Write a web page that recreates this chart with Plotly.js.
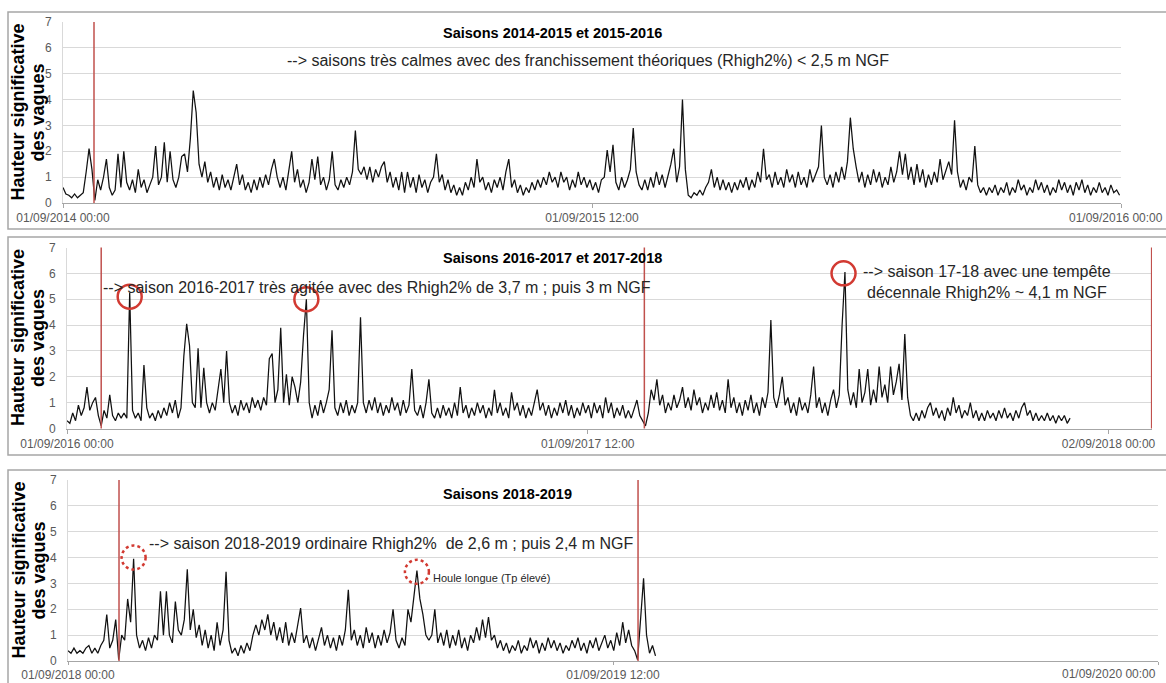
<!DOCTYPE html>
<html><head><meta charset="utf-8">
<script src="https://cdn.plot.ly/plotly-3.0.1.min.js"></script>
<style>html,body{margin:0;padding:0;background:#fff;}#chart{width:1166px;height:683px;}</style>
</head><body><div id="chart"></div>
<script>
// ---------- DATA (one value every 2 days) ----------
const hs1Start = '2014-09-01';
const hs2Start = '2016-09-01';
const hs3Start = '2018-09-01';
const stepDays = 2;

const hs1 = [
0.6,0.35,0.3,0.2,0.35,0.2,0.3,0.4,1.2,2.1,
1.3,0.1,0.9,0.5,1.0,1.7,0.6,0.3,0.5,1.9,
0.6,2.0,0.8,0.5,0.9,0.4,1.3,0.6,0.9,0.4,
0.7,1.0,2.2,0.7,1.0,2.35,0.8,2.0,0.9,0.6,
1.0,1.8,1.9,1.2,2.5,4.35,3.5,1.5,1.0,1.6,
0.8,1.2,0.6,1.0,0.5,1.1,0.6,0.9,0.5,1.0,
1.5,0.7,1.1,0.5,0.8,0.4,0.9,0.5,1.0,0.6,
1.1,0.7,1.3,1.7,1.0,0.6,1.0,0.5,1.2,2.0,
0.8,1.3,0.6,0.9,0.4,0.8,1.7,0.9,1.8,0.7,
1.0,0.5,0.9,2.0,0.7,0.5,0.9,0.6,1.0,0.7,
1.2,2.8,1.3,1.1,1.4,0.9,1.4,0.8,1.3,1.0,
1.4,1.6,0.8,1.2,0.6,1.0,0.5,1.2,0.4,1.2,
0.6,1.0,0.4,1.1,0.6,0.9,0.4,0.8,1.0,1.9,
0.8,1.1,0.5,0.9,0.4,0.7,0.3,0.6,0.3,0.8,
0.5,1.0,0.6,1.7,0.8,1.0,0.5,0.8,0.4,0.9,
0.6,1.0,0.5,1.2,1.7,0.6,0.9,0.4,0.7,0.3,
0.6,0.4,0.8,0.5,0.9,0.6,1.0,0.7,1.2,0.8,
1.0,0.6,1.2,0.8,1.0,0.5,0.9,0.6,1.2,0.7,
1.0,0.6,0.9,0.5,0.8,0.4,0.9,1.0,2.05,1.2,
2.25,0.8,0.5,1.0,0.6,0.9,1.3,2.9,1.2,0.7,
0.5,0.9,0.5,1.0,0.6,1.2,0.7,1.1,0.6,1.0,
1.5,2.1,0.8,1.4,4.0,1.3,0.3,0.2,0.4,0.3,
0.5,0.3,0.6,0.8,1.3,0.6,1.0,0.5,0.9,0.5,
0.8,0.4,0.8,0.5,0.9,0.6,1.0,0.5,0.9,0.6,
1.2,0.8,2.1,0.9,1.1,0.6,1.2,0.7,1.0,0.6,
1.3,0.8,1.1,0.6,1.2,0.7,1.0,0.6,1.3,0.8,
1.1,1.4,3.0,1.0,0.7,1.1,0.6,1.2,0.8,1.4,
0.9,1.6,3.3,2.1,1.4,0.8,1.2,0.6,1.1,0.7,
1.3,0.8,1.2,0.6,1.0,0.7,1.4,0.8,1.2,2.0,
1.1,1.9,0.9,1.4,0.7,1.5,0.8,1.3,0.6,1.1,
0.7,1.2,0.8,1.7,0.9,1.3,1.6,1.1,3.2,1.2,
0.6,0.9,0.5,1.0,0.8,2.2,0.7,0.4,0.6,0.3,
0.6,0.4,0.7,0.3,0.6,0.4,0.8,0.3,0.6,0.4,
0.9,0.5,0.7,0.3,0.6,0.4,0.9,0.5,0.8,0.4,
0.7,0.3,0.6,0.4,0.9,0.5,0.8,0.4,0.7,0.3,
0.8,0.5,0.9,0.4,0.7,0.3,0.6,0.4,0.8,0.4,
0.6,0.3,0.7,0.4,0.5,0.3];

const hs2 = [
0.3,0.2,0.6,0.3,0.9,0.5,0.8,1.6,0.7,1.0,
1.2,0.5,0.1,0.7,0.4,1.3,0.5,0.3,0.6,0.4,
0.6,0.4,5.25,0.7,0.4,0.6,0.3,2.45,0.8,0.4,
0.6,0.3,0.7,0.4,0.8,0.5,1.0,0.6,1.1,0.4,
0.8,2.8,4.05,3.2,1.0,0.8,3.1,0.8,2.35,1.0,
0.6,1.0,0.7,1.5,2.3,1.0,3.0,1.0,0.6,0.9,
0.5,1.1,0.7,1.0,0.6,1.2,0.8,1.1,0.7,1.2,
0.9,2.7,2.9,1.0,1.5,3.9,1.0,2.1,0.9,2.0,
1.6,1.0,1.8,3.6,5.0,1.0,0.4,0.9,0.5,1.1,
0.6,1.0,1.5,3.8,0.8,0.5,1.0,0.6,1.1,0.5,
0.9,0.6,1.0,4.3,1.0,0.6,1.1,0.7,1.2,0.6,
1.0,0.5,0.9,0.6,1.2,0.7,1.0,0.5,1.1,0.6,
0.9,2.3,0.7,0.5,0.9,0.4,1.0,1.9,0.6,0.4,
0.8,0.4,0.9,0.5,0.8,0.4,1.0,0.5,1.6,0.6,
0.9,0.4,0.8,0.5,1.0,0.6,0.9,0.4,0.8,0.5,
1.5,0.6,1.0,0.5,0.8,0.4,1.4,0.7,1.0,0.5,
0.9,0.4,0.8,0.5,1.0,1.5,0.7,1.0,0.5,0.9,
0.4,0.8,0.5,1.0,0.6,1.1,0.5,0.9,0.4,0.8,
0.5,1.0,0.6,0.9,0.4,1.0,0.6,0.9,0.4,1.2,
0.6,1.0,0.4,0.8,0.5,0.9,0.4,0.7,0.4,0.8,
1.1,0.5,0.3,0.1,0.6,1.5,1.1,1.9,0.9,1.3,
0.6,1.0,0.7,1.3,0.8,1.1,1.6,0.8,1.2,0.7,
1.5,0.9,1.2,0.6,1.0,0.7,1.3,0.8,1.4,0.7,
1.1,0.6,1.9,0.8,1.2,0.6,1.0,0.5,1.1,0.7,
1.3,0.6,1.0,0.5,1.2,0.8,1.4,4.2,1.2,0.8,
1.3,2.0,0.9,1.2,0.6,1.0,0.5,1.2,0.7,1.0,
0.6,1.3,2.4,0.8,1.2,0.6,1.0,0.5,1.1,1.5,
0.8,1.3,4.0,6.05,1.5,0.9,1.4,0.8,2.3,1.0,
1.4,2.3,0.9,1.5,1.0,2.4,1.2,1.7,1.0,2.4,
1.3,1.8,2.5,1.1,3.65,1.2,0.5,0.3,0.6,0.3,
0.7,0.4,0.8,1.0,0.5,0.8,0.4,0.7,0.3,0.8,
0.5,1.2,0.6,0.9,0.4,0.7,0.5,1.0,0.4,0.7,
0.3,0.6,0.3,0.7,0.4,0.6,0.3,0.7,0.4,0.8,
0.4,0.6,0.3,0.7,0.4,0.8,1.0,0.5,0.7,0.3,
0.6,0.3,0.5,0.3,0.6,0.3,0.5,0.2,0.5,0.3,
0.5,0.2,0.4];

const hs3 = [
0.4,0.3,0.5,0.3,0.4,0.3,0.5,0.6,0.3,0.5,
0.3,0.6,0.8,1.8,0.5,0.8,1.6,0.05,1.0,0.8,
2.4,1.5,3.95,1.0,0.5,0.8,0.4,0.9,0.5,1.0,
0.8,2.7,1.0,2.7,1.0,0.7,2.3,1.2,1.0,1.6,
3.55,1.2,2.0,0.9,1.4,0.6,1.2,0.5,1.0,0.4,
1.5,0.6,1.2,3.45,0.8,0.3,0.5,0.2,0.6,0.3,
0.7,0.4,1.0,1.4,1.0,1.6,1.2,1.8,1.0,1.5,
0.8,1.3,0.7,1.5,0.6,1.1,0.7,1.4,2.05,0.7,
1.0,0.5,0.9,0.4,0.8,1.3,0.6,1.0,0.5,0.9,
0.4,1.0,0.6,1.2,2.75,0.8,1.2,0.6,1.0,0.5,
1.3,0.7,1.1,0.5,1.0,0.6,1.2,0.7,1.1,2.0,
0.8,0.5,0.9,0.6,2.0,1.5,2.5,3.5,2.4,1.8,
1.0,0.8,1.0,2.0,0.7,1.1,0.6,1.2,0.5,1.0,
0.6,1.2,0.5,0.9,0.4,1.0,0.7,1.3,0.8,1.6,
0.9,1.7,0.8,1.0,0.5,0.8,0.4,0.7,0.3,0.6,
0.4,0.8,0.3,0.6,0.4,0.9,0.5,0.8,0.3,0.7,
0.4,0.9,0.5,0.8,0.4,0.7,0.3,0.6,0.4,0.8,
0.5,0.9,0.4,0.7,0.3,0.8,0.5,0.9,0.4,0.7,
1.0,0.5,0.8,0.4,1.1,0.6,1.5,0.7,1.2,0.6,
0.4,0.05,1.5,3.2,1.0,0.3,0.6,0.2];

// axis ranges and tick labels
const range1 = ['2014-09-01 00:00','2016-09-01 00:00'];
const range2 = ['2016-09-01 00:00','2018-10-02 12:00'];
const range3 = ['2018-09-01 00:00','2020-09-01 00:00'];
const tickVals1 = ['2014-09-01 00:00','2015-09-01 12:00','2016-09-01 00:00'];
const tickText1 = ['01/09/2014 00:00','01/09/2015 12:00','01/09/2016 00:00'];
const tickVals2 = ['2016-09-01 00:00','2017-09-01 12:00','2018-09-02 00:00'];
const tickText2 = ['01/09/2016 00:00','01/09/2017 12:00','02/09/2018 00:00'];
const tickVals3 = ['2018-09-01 00:00','2019-09-01 12:00','2020-09-01 00:00'];
const tickText3 = ['01/09/2018 00:00','01/09/2019 12:00','01/09/2020 00:00'];
const yTicks = [0,1,2,3,4,5,6,7];

// season boundary lines (red)
const seasonLines1 = ['2014-09-22 10:00'];
const seasonLines2 = ['2016-09-25 00:00','2017-10-11 05:00','2018-10-02 06:00'];
const seasonLines3 = ['2018-10-05 05:00','2019-09-18 07:00'];

// highlighted storms (circles)
const storms2X = ['2016-10-15 00:00','2017-02-16 00:00','2018-02-28 00:00'];
const storms2Y = [5.1, 5.0, 6.0];
const storms3X = ['2018-10-15 00:00','2019-04-23 00:00'];
const storms3Y = [4.0, 3.45];

const titles = ['Saisons 2014-2015 et 2015-2016','Saisons 2016-2017 et 2017-2018','Saisons 2018-2019'];
const yTitle1 = 'Hauteur significative';
const yTitle2 = 'des vagues';

// ---------- BUILD ----------
const W = 1166, H = 683;
const FONT = 'Liberation Sans, Arial, sans-serif';
const TICKFONT = {family: FONT, size: 12, color: '#595959'};
const px = v => v / W;
const py = v => 1 - v / H;

function dates(start, n) {
  const t0 = Date.parse(start + 'T00:00:00Z');
  return Array.from({length: n}, (_, i) =>
    new Date(t0 + i * stepDays * 86400000).toISOString().slice(0, 16).replace('T', ' '));
}

const lineStyle = {color: '#111', width: 1.25};
const data = [
  {x: dates(hs1Start, hs1.length), y: hs1, xaxis: 'x', yaxis: 'y', type: 'scatter', mode: 'lines', line: lineStyle, hoverinfo: 'skip'},
  {x: dates(hs2Start, hs2.length), y: hs2, xaxis: 'x2', yaxis: 'y2', type: 'scatter', mode: 'lines', line: lineStyle, hoverinfo: 'skip'},
  {x: dates(hs3Start, hs3.length), y: hs3, xaxis: 'x3', yaxis: 'y3', type: 'scatter', mode: 'lines', line: lineStyle, hoverinfo: 'skip'}
];

function xAxis(dom, range, vals, text, anchor, tlen) {
  return {domain: dom, anchor: anchor, type: 'date', range: range, tickmode: 'array',
    tickvals: vals, ticktext: text, tickfont: TICKFONT,
    ticks: 'outside', ticklen: tlen, tickcolor: '#a6a6a6', showline: true, linecolor: '#a6a6a6',
    linewidth: 1, showgrid: false, zeroline: false, ticklabelstandoff: 0};
}
function yAxis(dom, anchor) {
  return {domain: dom, anchor: anchor, range: [0, 7], tickmode: 'array', tickvals: yTicks,
    tickfont: TICKFONT, gridcolor: '#d9d9d9', gridwidth: 1,
    showline: true, linecolor: '#d9d9d9', zeroline: false, ticks: '', ticklabelstandoff: 8};
}

// plot areas in pixels: [left, right, top(7), bottom(0)]
const P1 = [63, 1121, 22, 203];
const P2 = [67, 1152, 247.5, 428.5];
const P3 = [68, 1158, 480, 661];

// end labels of panels 1 and 3 are written as annotations to keep them inside the page
const t1 = tickText1.slice(0, 2).concat(['']);
const t3 = tickText3.slice(0, 2).concat(['']);

const layout = {
  width: W, height: H, margin: {l: 0, r: 0, t: 0, b: 0},
  paper_bgcolor: '#fff', plot_bgcolor: 'rgba(0,0,0,0)', showlegend: false,
  font: {family: FONT},
  xaxis: xAxis([px(P1[0]), px(P1[1])], range1, tickVals1, t1, 'y', 4),
  yaxis: yAxis([py(P1[3]), py(P1[2])], 'x'),
  xaxis2: xAxis([px(P2[0]), px(P2[1])], range2, tickVals2, tickText2, 'y2', 4),
  yaxis2: yAxis([py(P2[3]), py(P2[2])], 'x2'),
  xaxis3: xAxis([px(P3[0]), px(P3[1])], range3, tickVals3, t3, 'y3', 3),
  yaxis3: yAxis([py(P3[3]), py(P3[2])], 'x3'),
  shapes: [], annotations: []
};

// panel frames
[[12, 229], [237, 455], [470, 700]].forEach(([t, b]) => layout.shapes.push({
  type: 'rect', xref: 'paper', yref: 'paper', x0: px(8), x1: px(1175), y0: py(b), y1: py(t),
  line: {color: '#a6a6a6', width: 1.5}, layer: 'below'}));

// red season lines
[[seasonLines1, 'x', 'y'], [seasonLines2, 'x2', 'y2'], [seasonLines3, 'x3', 'y3']].forEach(([arr, xr, yr]) =>
  arr.forEach(d => layout.shapes.push({type: 'line', xref: xr, yref: yr + ' domain', x0: d, x1: d, y0: 0, y1: 1,
    line: {color: '#c0504d', width: 1.5}})));

// storm circles
storms2X.forEach((d, i) => layout.shapes.push({type: 'circle', xref: 'x2', yref: 'y2',
  xsizemode: 'pixel', ysizemode: 'pixel', xanchor: d, yanchor: storms2Y[i],
  x0: -12, x1: 12, y0: -12, y1: 12, line: {color: '#d23a32', width: 2.5}}));
storms3X.forEach((d, i) => layout.shapes.push({type: 'circle', xref: 'x3', yref: 'y3',
  xsizemode: 'pixel', ysizemode: 'pixel', xanchor: d, yanchor: storms3Y[i],
  x0: -12, x1: 12, y0: -12, y1: 12, line: {color: '#d23a32', width: 2.5, dash: 'dot'}}));

function ann(text, x, y, xanchor, size, bold, extra) {
  return Object.assign({xref: 'paper', yref: 'paper', x: px(x), y: py(y), text: bold ? '<b>' + text + '</b>' : text,
    showarrow: false, xanchor: xanchor, yanchor: 'middle',
    font: {family: FONT, size: size, color: bold ? '#000' : '#262626'}}, extra || {});
}

// y-axis titles
[P1, P2, P3].forEach(P => {
  const cy = (P[2] + P[3]) / 2;
  layout.annotations.push(ann(yTitle1, 18, cy, 'center', 18, true, {textangle: -90}));
  layout.annotations.push(ann(yTitle2, 38, cy, 'center', 18, true, {textangle: -90}));
});

// panel titles
layout.annotations.push(ann(titles[0], 441, 33, 'left', 14.5, true));
layout.annotations.push(ann(titles[1], 441, 258, 'left', 14.5, true));
layout.annotations.push(ann(titles[2], 441, 494, 'left', 14.5, true));

// comments
layout.annotations.push(ann('--&gt; saisons très calmes avec des franchissement théoriques (Rhigh2%) &lt; 2,5 m NGF', 285, 60, 'left', 16, false));
layout.annotations.push(ann('--&gt; saison 2016-2017 très agitée avec des Rhigh2% de 3,7 m ; puis 3 m NGF', 101, 287, 'left', 16, false));
layout.annotations.push(ann('--&gt; saison 17-18 avec une tempête<br>décennale Rhigh2% ~ 4,1 m NGF', 987, 281.5, 'center', 16, false, {align: 'center'}));
layout.annotations.push(ann('--&gt; saison 2018-2019 ordinaire Rhigh2%  de 2,6 m ; puis 2,4 m NGF', 147, 543, 'left', 16, false));
layout.annotations.push(ann('Houle longue (Tp élevé)', 431, 578, 'left', 11, false));

// end tick labels kept inside the page
layout.annotations.push(Object.assign(ann(tickText1[2], 1165, 218, 'right', 12, false), {font: TICKFONT}));
layout.annotations.push(Object.assign(ann(tickText3[2], 1158, 674, 'right', 12, false), {font: TICKFONT}));

Plotly.newPlot('chart', data, layout, {staticPlot: true, displayModeBar: false});
</script>
</body></html>
